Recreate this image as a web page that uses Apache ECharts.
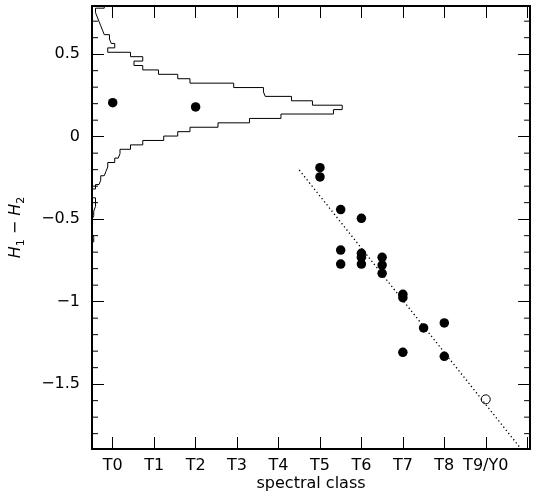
<!DOCTYPE html>
<html>
<head>
<meta charset="utf-8">
<script src="https://cdn.jsdelivr.net/npm/echarts@6/dist/echarts.min.js"></script>
<style>
html,body{margin:0;padding:0;background:#fff;}
#chart{width:533px;height:493px;}
</style>
</head>
<body>
<div id="chart"></div>
<script>
// ---- data ----
const classTicks = [0,1,2,3,4,5,6,7,8,9];
const classLabels = ['T0','T1','T2','T3','T4','T5','T6','T7','T8','T9/Y0'];
const classTickMarks = [0,1,2,3,4,5,6,7,8,9,10];
const yMajorTicks = [-1.5,-1,-0.5,0,0.5];
const yMinorTicks = [-1.8,-1.7,-1.6,-1.4,-1.3,-1.2,-1.1,-0.9,-0.8,-0.7,-0.6,-0.4,-0.3,-0.2,-0.1,0.1,0.2,0.3,0.4,0.6,0.7];

// filled points: spectral class, H1-H2
const ptClass = [0,2,5,5,5.5,6,5.5,5.5,6,6,6,6.5,6.5,6.5,7,7,7.5,8,7,8];
const ptColor = [0.206,0.18,-0.188,-0.244,-0.442,-0.495,-0.687,-0.772,-0.707,-0.731,-0.772,-0.731,-0.778,-0.828,-0.955,-0.976,-1.159,-1.129,-1.307,-1.331];
// open point
const openClass = [9];
const openColor = [-1.592];
// dotted fit line endpoints
const fitClass = [4.5, 9.86];
const fitColor = [-0.202, -1.895];

// histogram of H1-H2 (bin edges, counts)
const histEdges = [0.8055,0.7788,0.7521,0.7253,0.6986,0.6719,0.6452,0.6184,0.5917,0.5650,0.5382,0.5115,0.4848,0.4581,0.4313,0.4046,0.3779,0.3512,0.3244,0.2977,0.2710,0.2442,0.2175,0.1908,0.1641,0.1373,0.1106,0.0839,0.0572,0.0304,0.0037,-0.0230,-0.0498,-0.0765,-0.1032,-0.1299,-0.1567,-0.1834,-0.2101,-0.2368,-0.2636,-0.2903,-0.3170,-0.3438,-0.3705,-0.3972,-0.4239,-0.4507,-0.4774,-0.5041,-0.5308,-0.5576,-0.5843,-0.6110,-0.6377];
const histCounts = [7,2,3,4,5,6,7,10,11,13,9,22,29,24,29,38,49,56,81,98,99,114,126,143,138,108,90,72,56,49,41,29,22,16,15,13,9,8,7,5,4,2,0,0,2,2,1,1,0,0,0,0,1,1];

// ---- build ----
const histPts = [[0, histEdges[0]]];
for (let i = 0; i < histCounts.length; i++) {
  histPts.push([histCounts[i], histEdges[i]]);
  histPts.push([histCounts[i], histEdges[i+1]]);
}
histPts.push([0, histEdges[histEdges.length-1]]);

const fmtNum = v => String(v).replace('-', '\u2212');
const FONT = 'DejaVu Sans';
const black = '#000';

const chart = echarts.init(document.getElementById('chart'), null, {renderer:'canvas'});
const xMin = -0.5, xMax = 10.07, yMin = -1.893, yMax = 0.792;

chart.setOption({
  animation: false,
  backgroundColor: '#fff',
  grid: {left: 92, top: 6, width: 438.1, height: 443, containLabel: false, outerBoundsMode: 'none'},
  xAxis: [
    {
      type: 'value', min: xMin, max: xMax, position: 'bottom',
      axisLine: {show: true, onZero: false, lineStyle: {color: black, width: 2}},
      axisTick: {show: true, inside: true, length: 12, customValues: classTickMarks, lineStyle: {color: black, width: 1}},
      axisLabel: {show: true, customValues: classTicks, margin: 9, color: black, fontFamily: FONT, fontSize: 16,
        formatter: v => { const i = classTicks.indexOf(v); return i >= 0 ? classLabels[i] : ''; }},
      splitLine: {show: false},
      name: 'spectral class', nameLocation: 'middle', nameGap: 27, nameMoveOverlap: false,
      nameTextStyle: {color: black, fontFamily: FONT, fontSize: 16}
    },
    {
      type: 'value', min: xMin, max: xMax, position: 'top',
      axisLine: {show: true, onZero: false, lineStyle: {color: black, width: 2}},
      axisTick: {show: true, inside: true, length: 12, customValues: classTickMarks, lineStyle: {color: black, width: 1}},
      axisLabel: {show: false}, splitLine: {show: false}
    },
    {
      type: 'value', min: 0, max: 250.4, show: false
    }
  ],
  yAxis: [
    {
      type: 'value', min: yMin, max: yMax, position: 'left',
      axisLine: {show: true, onZero: false, lineStyle: {color: black, width: 2}},
      axisTick: {show: true, inside: true, length: 12, customValues: yMajorTicks, lineStyle: {color: black, width: 1}},
      axisLabel: {show: true, customValues: yMajorTicks, margin: 12, color: black, fontFamily: FONT, fontSize: 16, formatter: fmtNum},
      splitLine: {show: false},
      name: '{i|H}{s|1}{m| \u2212 }{i|H}{s|2}', nameLocation: 'middle', nameGap: 65, nameRotate: 90, nameMoveOverlap: false,
      nameTextStyle: {
        color: black, fontFamily: FONT, fontSize: 16,
        rich: {
          i: {fontStyle: 'italic', fontFamily: FONT, fontSize: 16, color: black, lineHeight: 22, verticalAlign: 'middle'},
          m: {fontFamily: FONT, fontSize: 16, color: black, lineHeight: 22, verticalAlign: 'middle'},
          s: {fontFamily: FONT, fontSize: 11, color: black, lineHeight: 14, verticalAlign: 'bottom'}
        }
      }
    },
    {
      type: 'value', min: yMin, max: yMax, position: 'right',
      axisLine: {show: true, onZero: false, lineStyle: {color: black, width: 2}},
      axisTick: {show: true, inside: true, length: 12, customValues: yMajorTicks, lineStyle: {color: black, width: 1}},
      axisLabel: {show: false}, splitLine: {show: false}
    }
  ],
  series: [
    {
      // minor ticks of the y axes (left and right), placed through the axis scales
      type: 'custom', xAxisIndex: 0, yAxisIndex: 0, silent: true, clip: false,
      data: yMinorTicks.map(v => [xMin, v]),
      renderItem: (params, api) => {
        const v = api.value(1);
        const l = api.coord([xMin, v]);
        const r = api.coord([xMax, v]);
        return {type: 'group', children: [
          {type: 'line', shape: {x1: l[0], y1: l[1], x2: l[0] + 6, y2: l[1]}, style: {stroke: black, lineWidth: 1}},
          {type: 'line', shape: {x1: r[0] - 6, y1: r[1], x2: r[0], y2: r[1]}, style: {stroke: black, lineWidth: 1}}
        ]};
      }
    },
    {
      type: 'line', xAxisIndex: 2, yAxisIndex: 0, data: histPts,
      showSymbol: false, symbol: 'none', clip: true,
      lineStyle: {color: black, width: 1}, silent: true
    },
    {
      type: 'line', xAxisIndex: 0, yAxisIndex: 0,
      data: fitClass.map((x, i) => [x, fitColor[i]]),
      showSymbol: false, symbol: 'none', clip: true,
      lineStyle: {color: black, width: 1.3, type: [1.3, 2.7]}, silent: true
    },
    {
      type: 'scatter', xAxisIndex: 0, yAxisIndex: 0,
      data: ptClass.map((x, i) => [x, ptColor[i]]),
      symbol: 'circle', symbolSize: 9.5,
      itemStyle: {color: black, opacity: 1}
    },
    {
      type: 'scatter', xAxisIndex: 0, yAxisIndex: 0,
      data: openClass.map((x, i) => [x, openColor[i]]),
      symbol: 'circle', symbolSize: 9,
      itemStyle: {color: '#fff', borderColor: black, borderWidth: 1, opacity: 1}
    }
  ]
});
</script>
</body>
</html>
